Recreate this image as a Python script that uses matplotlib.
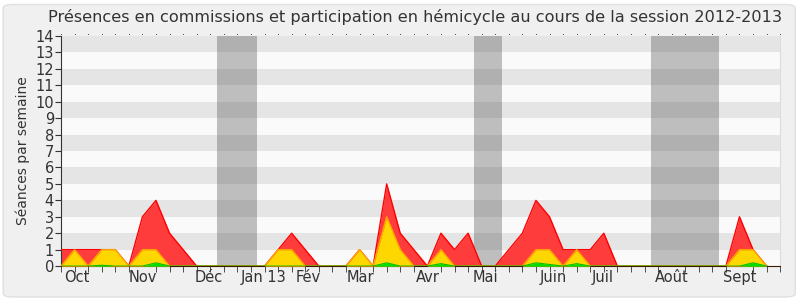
import matplotlib
matplotlib.use("Agg")
import matplotlib.pyplot as plt
import numpy as np
from matplotlib.patches import FancyBboxPatch

# Data: one value per week, session Oct 2012 -> Sept 2013
total = [1, 1, 1, 1, 1, 0, 3, 4, 2, 1, 0, 0, 0, 0, 0, 0, 1, 2, 1, 0,
         0, 0, 1, 0, 5, 2, 1, 0, 2, 1, 2, 0, 0, 1, 2, 4, 3, 1, 1, 1,
         2, 0, 0, 0, 0, 0, 0, 0, 0, 0, 3, 1, 0]
hemicycle = [0, 1, 0, 1, 1, 0, 1, 1, 0, 0, 0, 0, 0, 0, 0, 0, 1, 1, 0, 0,
             0, 0, 1, 0, 3, 1, 0, 0, 1, 0, 0, 0, 0, 0, 0, 1, 1, 0, 1, 0,
             0, 0, 0, 0, 0, 0, 0, 0, 0, 0, 1, 1, 0]
questions = [0, 0, 0, 0.05, 0, 0, 0, 0.2, 0, 0, 0, 0, 0, 0, 0, 0, 0, 0, 0, 0,
             0, 0, 0, 0, 0.2, 0, 0, 0, 0.15, 0, 0, 0, 0, 0, 0, 0.2, 0.1, 0, 0.15, 0,
             0, 0, 0, 0, 0, 0, 0, 0, 0, 0, 0, 0.2, 0]

# holidays (week ranges)
vacances = [(11.5, 14.45), (30.4, 32.5), (43.5, 48.5)]

months = ['Oct', 'Nov', 'Déc', 'Jan 13', 'Fév', 'Mar', 'Avr', 'Mai',
          'Juin', 'Juil', 'Août', 'Sept']
month_pos = [1.2, 6.0, 10.9, 14.9, 18.2, 22.1, 27.0, 31.3, 36.3, 39.9, 45.0, 50.0]

weeks = np.arange(len(total))

fig = plt.figure(figsize=(8, 3), dpi=100, facecolor='white')
bg = FancyBboxPatch((0.004, 0.01), 0.99, 0.975, boxstyle="round,pad=0,rounding_size=0.012",
                    transform=fig.transFigure, facecolor='#f0f0f0', edgecolor='#e0e0e0',
                    linewidth=1, zorder=-10)
fig.patches.append(bg)

ax = fig.add_axes([0.07625, 0.113, 0.899, 0.767])
ax.set_facecolor('#fafafa')

# horizontal stripes
for k in range(1, 14, 2):
    ax.axhspan(k, k + 1, color='#e5e5e5', zorder=0, linewidth=0)

# holidays
for a, b in vacances:
    ax.axvspan(a, b, color='#444444', alpha=0.33, zorder=1, linewidth=0)

ax.fill_between(weeks, total, color='#ff3c3c', zorder=2, linewidth=0)
ax.plot(weeks, total, color='#ff0000', linewidth=1, zorder=3)
ax.fill_between(weeks, hemicycle, color='#ffd700', zorder=4, linewidth=0)
ax.plot(weeks, hemicycle, color='#ffa500', linewidth=1, zorder=5)
ax.fill_between(weeks, questions, color='#00e000', zorder=6, linewidth=0)
ax.plot(weeks, questions, color='#00c000', linewidth=0.8, zorder=7)

# top dotted marks
ax.plot(np.arange(0, 54), [14.12] * 54, linestyle='none', marker='s', markersize=0.6,
        markeredgewidth=0, color='#444444', clip_on=False, zorder=8)

ax.set_xlim(0, 53)
ax.set_ylim(0, 14)
ax.set_yticks(range(0, 15))
ax.tick_params(axis='y', labelsize=10.5, length=4, color='#333333', labelcolor='#333333', pad=1)
ax.set_xticks(month_pos)
ax.set_xticklabels(months, fontsize=10.5, color='#333333')
ax.set_xticks(np.arange(0, 54), minor=True)
ax.tick_params(axis='x', which='major', length=0, pad=3)
ax.tick_params(axis='x', which='minor', length=4, color='#333333')

ax.set_title('Présences en commissions et participation en hémicycle au cours de la session 2012-2013',
             fontsize=11.6, color='#333333', pad=10, x=0.492)
ax.set_ylabel('Séances par semaine', fontsize=10, color='#333333', labelpad=4)

ax.spines['top'].set_visible(False)
ax.spines['right'].set_color('#dddddd')
ax.spines['left'].set_color('#333333')
ax.spines['bottom'].set_color('#3a1a00')

fig.savefig('out.png', dpi=100, facecolor='white')
